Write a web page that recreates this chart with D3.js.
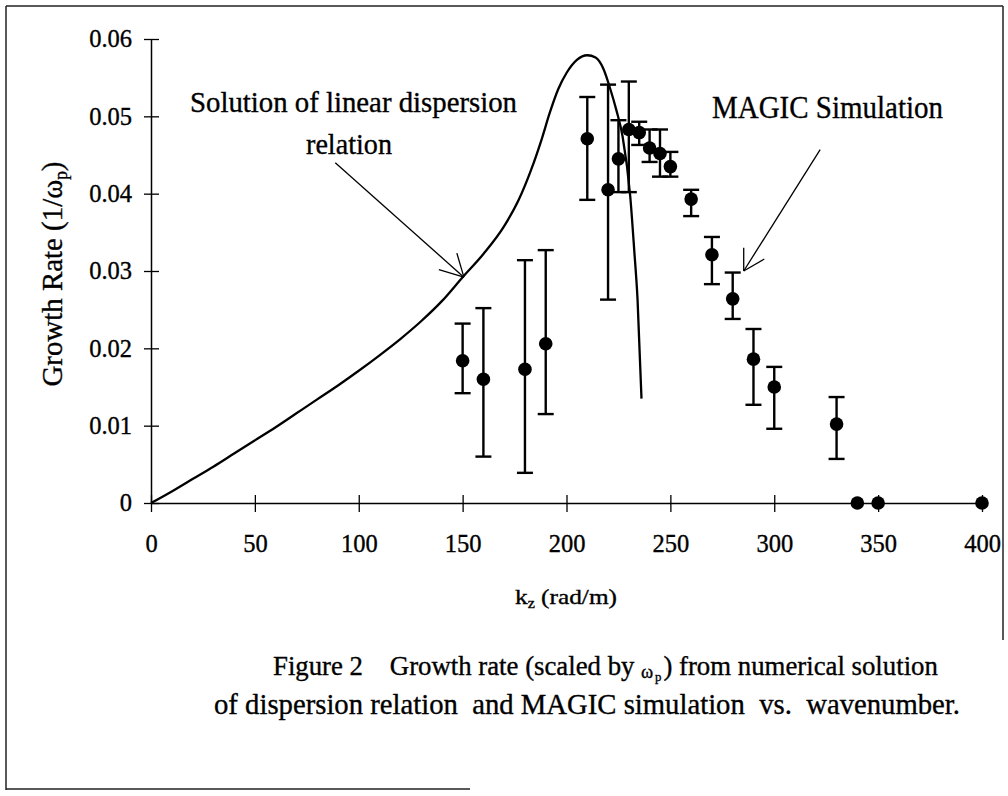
<!DOCTYPE html>
<html><head><meta charset="utf-8">
<script src="https://cdn.jsdelivr.net/npm/d3@7"></script>
<style>
html,body{margin:0;padding:0;background:#fff;}
svg{display:block;}
text{font-family:"Liberation Serif","Times New Roman",serif;fill:#000;stroke:#000;stroke-width:0.35px;}
</style></head><body>
<svg id="chart" width="1008" height="796"></svg>
<script>
// ---- data ----
const xTicks = [0, 50, 100, 150, 200, 250, 300, 350, 400];
const yTicks = [0, 0.01, 0.02, 0.03, 0.04, 0.05, 0.06];
const yTickLabels = ["0", "0.01", "0.02", "0.03", "0.04", "0.05", "0.06"];

// linear dispersion relation solution (curve)
const curveKz   = [0, 10, 20, 30, 40, 50, 60, 70, 80, 90, 100, 110, 120, 130, 140, 150, 160, 170, 177, 183, 188, 192, 196, 200, 205, 210, 214, 218, 221, 224, 227, 230.7, 232.6, 234.2, 236.1];
const curveRate = [0, 0.0015, 0.0031, 0.0047, 0.0064, 0.0081, 0.0098, 0.0116, 0.0134, 0.0152, 0.0171, 0.0191, 0.0212, 0.0235, 0.0261, 0.0292, 0.0322, 0.0358, 0.0392, 0.0431, 0.0470, 0.0505, 0.0535, 0.0556, 0.0573, 0.0579, 0.0576, 0.0560, 0.0536, 0.0508, 0.0474, 0.0396, 0.0327, 0.0263, 0.0135];

// MAGIC simulation points with error bars
const simKz   = [150, 160, 180, 190, 210, 220, 225, 230, 235, 240, 245, 250, 260, 270, 280, 290, 300, 330, 340, 350, 400];
const simRate = [0.0184, 0.0160, 0.0173, 0.0206, 0.0471, 0.0405, 0.0445, 0.0483, 0.0479, 0.0459, 0.0452, 0.0435, 0.0393, 0.0321, 0.0264, 0.0186, 0.0150, 0.0102, 0, 0, 0];
const simLow  = [0.0142, 0.0060, 0.0039, 0.0115, 0.0392, 0.0263, 0.0402, 0.0402, 0.0463, 0.0441, 0.0422, 0.0422, 0.0371, 0.0283, 0.0238, 0.0127, 0.0096, 0.0057, null, null, null];
const simHigh = [0.0232, 0.0252, 0.0314, 0.0327, 0.0525, 0.0541, 0.0495, 0.0545, 0.0493, 0.0483, 0.0483, 0.0454, 0.0405, 0.0344, 0.0298, 0.0225, 0.0176, 0.0137, null, null, null];

// annotation arrow anchors (data units): [startKz, startRate, tipKz, tipRate]
const arrowSolution = [88.7, 0.0440, 150.6, 0.0292];
const arrowMagic    = [322.1, 0.0457, 285.3, 0.0300];

// ---- drawing ----
const svg = d3.select("#chart");
const x = d3.scaleLinear().domain([0, 400]).range([151, 982]);
const y = d3.scaleLinear().domain([0, 0.06]).range([503, 39]);

// frame
const frame = svg.append("g").attr("stroke", "#222").attr("stroke-width", 1.5);
frame.append("line").attr("x1", 6).attr("y1", 6).attr("x2", 1003).attr("y2", 6);
frame.append("line").attr("x1", 6).attr("y1", 6).attr("x2", 6).attr("y2", 790);
frame.append("line").attr("x1", 6).attr("y1", 789).attr("x2", 470).attr("y2", 789);
frame.append("line").attr("x1", 1003).attr("y1", 6).attr("x2", 1003).attr("y2", 640);

// y axis
const yAxis = svg.append("g").attr("transform", "translate(151,0)")
  .call(d3.axisLeft(y).tickValues(yTicks).tickFormat((d, i) => yTickLabels[i])
    .tickSizeInner(7).tickSizeOuter(0).tickPadding(12));
yAxis.selectAll(".tick").append("line").attr("x2", 8).attr("stroke", "#000");
yAxis.selectAll("line").attr("stroke", "#000").attr("stroke-width", 1.3);
yAxis.select(".domain").attr("stroke", "#000").attr("stroke-width", 1.5);
yAxis.selectAll("text").attr("font-size", 24.5).attr("font-family", "Liberation Serif");

// x axis
const xAxis = svg.append("g").attr("transform", "translate(0,503)")
  .call(d3.axisBottom(x).tickValues(xTicks).tickFormat(d3.format("d"))
    .tickSizeInner(9).tickSizeOuter(0).tickPadding(23));
xAxis.selectAll(".tick").append("line").attr("y2", -8).attr("stroke", "#000");
xAxis.selectAll("line").attr("stroke", "#000").attr("stroke-width", 1.3);
xAxis.select(".domain").attr("stroke", "#000").attr("stroke-width", 1.3);
xAxis.selectAll("text").attr("font-size", 24.5).attr("font-family", "Liberation Serif");

// curve
const curvePts = curveKz.map((k, i) => [k, curveRate[i]]);
svg.append("path").datum(curvePts)
  .attr("fill", "none").attr("stroke", "#000").attr("stroke-width", 2.3)
  .attr("stroke-linejoin", "round")
  .attr("d", d3.line().x(d => x(d[0])).y(d => y(d[1])).curve(d3.curveMonotoneX));

// error bars
const sim = simKz.map((k, i) => ({k, v: simRate[i], lo: simLow[i], hi: simHigh[i]}));
const eb = svg.append("g").attr("stroke", "#000").attr("stroke-width", 2.4);
sim.filter(d => d.lo !== null).forEach(d => {
  eb.append("line").attr("x1", x(d.k)).attr("x2", x(d.k)).attr("y1", y(d.lo)).attr("y2", y(d.hi));
  eb.append("line").attr("x1", x(d.k) - 8).attr("x2", x(d.k) + 8).attr("y1", y(d.lo)).attr("y2", y(d.lo));
  eb.append("line").attr("x1", x(d.k) - 8).attr("x2", x(d.k) + 8).attr("y1", y(d.hi)).attr("y2", y(d.hi));
});
svg.append("g").selectAll("circle").data(sim).join("circle")
  .attr("cx", d => x(d.k)).attr("cy", d => y(d.v)).attr("r", 6.8).attr("fill", "#000");

// arrows
function arrow(a, barbs) {
  const g = svg.append("g").attr("stroke", "#000").attr("stroke-width", 1.3).attr("fill", "none");
  const tx = x(a[2]), ty = y(a[3]);
  g.append("line").attr("x1", x(a[0])).attr("y1", y(a[1])).attr("x2", tx).attr("y2", ty);
  barbs.forEach(b => g.append("line").attr("x1", tx).attr("y1", ty).attr("x2", tx + b[0]).attr("y2", ty + b[1]));
}
arrow(arrowSolution, [[-25, -7.5], [-7, -24]]);
arrow(arrowMagic, [[20.6, -12], [0, -23.3]]);

// annotation texts
function txt(str, xx, yy, fs, len, anchor) {
  const t = svg.append("text").attr("x", xx).attr("y", yy).attr("font-size", fs)
    .attr("text-anchor", anchor || "start").style("white-space", "pre").text(str);
  if (len) t.attr("textLength", len).attr("lengthAdjust", "spacingAndGlyphs");
  return t;
}
txt("Solution of linear dispersion", 190, 112, 30, 327);
txt("relation", 306, 154, 30, 86);
txt("MAGIC Simulation", 712, 118, 32, 231);

// y axis title
const yt = svg.append("text").attr("transform", "translate(62,274) rotate(-90)")
  .attr("text-anchor", "middle").attr("font-size", 30)
  .attr("textLength", 225).attr("lengthAdjust", "spacingAndGlyphs");
yt.append("tspan").text("Growth Rate (1/");
yt.append("tspan").text("ω");
yt.append("tspan").attr("font-size", 18).attr("dy", 5).text("p");
yt.append("tspan").attr("dy", -5).text(")");

// x axis title
const xt = svg.append("text").attr("x", 515).attr("y", 604).attr("font-size", 22)
  .attr("textLength", 102).attr("lengthAdjust", "spacingAndGlyphs");
xt.append("tspan").text("k");
xt.append("tspan").attr("font-size", 14).attr("dy", 4).text("z");
xt.append("tspan").attr("dy", -4).style("white-space", "pre").text(" (rad/m)");

// caption line 1 as separate pieces, font sized so the line spans the measured width
const capParts = [
  {s: "Figure 2    Growth rate (scaled by", fs: 29, dy: 0},
  {s: "ω", fs: 20, dy: 3},
  {s: "p", fs: 14, dy: 6},
  {s: ") from numerical solution", fs: 29, dy: 0}
];
const capNodes = capParts.map(p => svg.append("text").attr("y", 675 + p.dy)
  .attr("font-size", p.fs).style("white-space", "pre").text(p.s));
const gaps = [0, 7, 2, 2];
const natural = capNodes.map(n => n.node().getComputedTextLength());
const total = d3.sum(natural) + d3.sum(gaps);
const sc = 665 / total;
let cx = 273;
capNodes.forEach((n, i) => {
  cx += gaps[i] * sc;
  n.attr("x", cx).attr("font-size", capParts[i].fs * sc);
  cx += natural[i] * sc;
});
txt("of dispersion relation  and MAGIC simulation  vs.  wavenumber.", 214, 714, 29, 746);
</script>
</body></html>
